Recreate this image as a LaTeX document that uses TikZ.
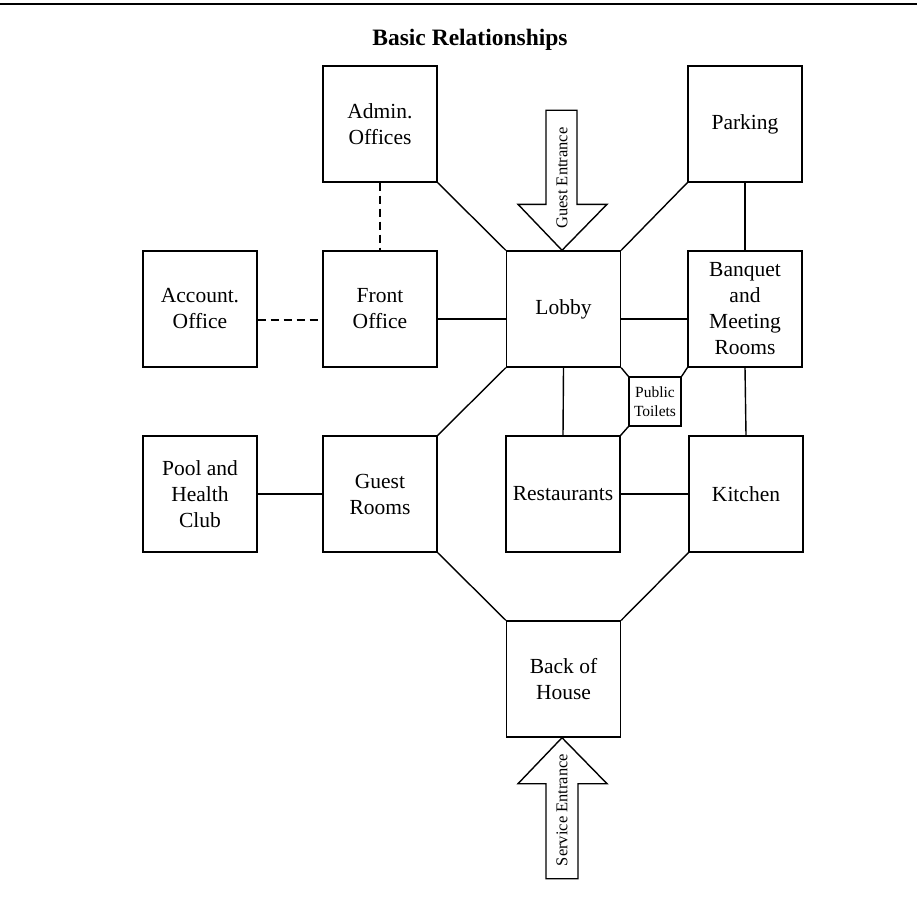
\documentclass[tikz,border=0pt]{standalone}
\usepackage{fontspec}
\setmainfont{Liberation Serif}
\begin{document}
\begin{tikzpicture}[x=1pt,y=-1pt,
  room/.style={draw, line width=1.4pt, minimum width=114pt, minimum height=116pt, inner sep=0pt, align=center, font=\fontsize{21.5}{26}\selectfont},
  small/.style={draw, line width=1.4pt, minimum width=52pt, minimum height=49pt, inner sep=0pt, align=center, font=\fontsize{15.5}{19}\selectfont},
  link/.style={line width=1.4pt},
  dlink/.style={line width=1.4pt, dash pattern=on 8pt off 5pt},
  entry/.style={draw, line width=1.4pt, line join=miter},
  entrylabel/.style={rotate=90, inner sep=0pt, font=\fontsize{16.5}{19}\selectfont}
]
\useasboundingbox (0,0) rectangle (917,896);
\draw[line width=2.5pt] (0,4) -- (917,4);
\node[font=\fontsize{23.5}{28}\selectfont\bfseries] (title) at (470,40) {Basic Relationships};

\node[room] (adm) at (380,124) {Admin.\\Offices};
\node[room] (par) at (745,124) {Parking};
\node[room] (acc) at (200,309) {Account.\\Office};
\node[room] (fo) at (380,309) {Front\\Office};
\node[room] (lob) at (563.5,309) {Lobby};
\node[room] (ban) at (745,309) {Banquet\\and\\Meeting\\Rooms};
\node[room] (pool) at (200,494) {Pool and\\Health\\Club};
\node[room] (gr) at (380,494) {Guest\\Rooms};
\node[room] (res) at (563,494) {Restaurants};
\node[room] (kit) at (746,494) {Kitchen};
\node[room] (boh) at (563.5,679) {Back of\\House};
\node[small] (toi) at (655,401.5) {Public\\Toilets};

% connectors
\draw[dlink] (adm.south) -- (fo.north);
\draw[dlink] ([yshift=-11pt]acc.east) -- ([yshift=-11pt]fo.west);
\draw[link] ([yshift=-10pt]fo.east) -- ([yshift=-10pt]lob.west);
\draw[link] ([yshift=-10pt]lob.east) -- ([yshift=-10pt]ban.west);
\draw[link] (adm.south east) -- (lob.north west);
\draw[link] (par.south west) -- (lob.north east);
\draw[link] (par.south) -- (ban.north);
\draw[link] (lob.south west) -- (gr.north east);
\draw[link] (lob.south) -- (res.north);
\draw[link] (ban.south) -- (kit.north);
\draw[link] (lob.south east) -- (toi.north west);
\draw[link] (ban.south west) -- (toi.north east);
\draw[link] (res.north east) -- (toi.south west);
\draw[link] (pool.east) -- (gr.west);
\draw[link] (res.east) -- (kit.west);
\draw[link] (gr.south east) -- (boh.north west);
\draw[link] (kit.south west) -- (boh.north east);

% entrances
\coordinate (gtip) at ([xshift=-1.5pt]lob.north);
\draw[entry] (gtip) -- ++(45,-46) -- ++(-30,0) -- ++(0,-94) -- ++(-31,0) -- ++(0,94) -- ++(-28,0) -- cycle;
\node[entrylabel] (gel) at (562,178) {Guest Entrance};
\coordinate (stip) at ([xshift=-1.5pt]boh.south);
\draw[entry] (stip) -- ++(45,46) -- ++(-29,0) -- ++(0,95) -- ++(-32,0) -- ++(0,-95) -- ++(-28,0) -- cycle;
\node[entrylabel] (sel) at (562,810) {Service Entrance};
\end{tikzpicture}
\end{document}
